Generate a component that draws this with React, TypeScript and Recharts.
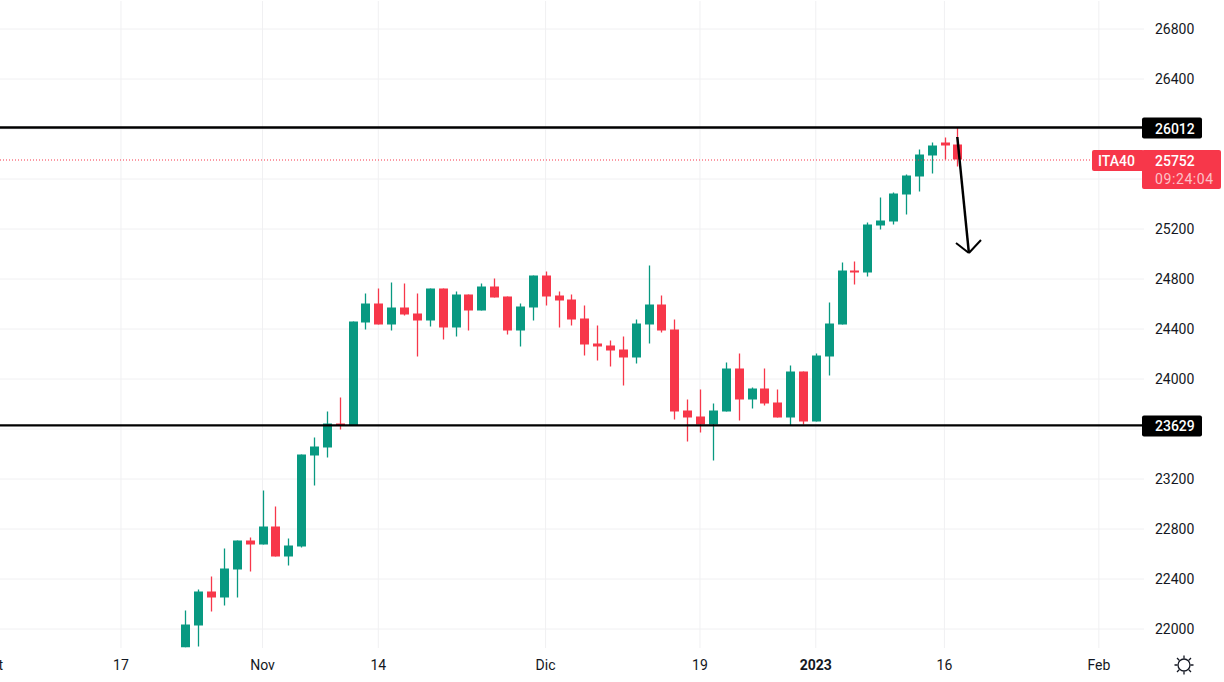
import { Bar, CartesianGrid, ComposedChart, ReferenceLine, XAxis, YAxis } from 'recharts';

// daily candles
const opens = [
  21850, 22024, 22296, 22248, 22472, 22704, 22672, 22816, 22576, 22656, 23384, 23448, 23640, 23624, 24448, 24600,
  24432, 24568, 24520, 24464, 24720, 24408, 24672, 24544, 24736, 24656, 24384, 24568, 24824, 24664, 24632, 24480,
  24280, 24264, 24232, 24168, 24432, 24592, 24392, 23744, 23696, 23632, 23736, 24080, 23832, 23920, 23808, 23688,
  24056, 23656, 24176, 24432, 24864, 24848, 25224, 25256, 25472, 25616, 25784, 25888, 25872,
];
const closes = [
  22032, 22296, 22248, 22480, 22704, 22672, 22816, 22576, 22664, 23392, 23456, 23640, 23624, 24456, 24600, 24432,
  24568, 24512, 24464, 24720, 24408, 24672, 24544, 24736, 24648, 24384, 24576, 24824, 24656, 24624, 24472, 24272,
  24256, 24224, 24168, 24440, 24592, 24384, 23736, 23688, 23632, 23744, 24080, 23832, 23920, 23800, 23688, 24056,
  23656, 24184, 24440, 24864, 24848, 25232, 25264, 25480, 25624, 25792, 25864, 25864, 25752,
];
const highs = [
  22144, 22312, 22416, 22640, 22704, 22728, 23104, 22976, 22720, 23392, 23528, 23736, 23848, 24456, 24680, 24720,
  24768, 24760, 24680, 24720, 24720, 24696, 24672, 24760, 24800, 24656, 24600, 24824, 24856, 24696, 24672, 24584,
  24424, 24304, 24336, 24472, 24904, 24664, 24472, 23832, 23912, 23800, 24128, 24200, 23928, 24080, 23912, 24104,
  24056, 24200, 24608, 24928, 24936, 25248, 25448, 25488, 25632, 25832, 25888, 25928, 26012,
];
const lows = [
  21850, 21856, 22136, 22184, 22248, 22456, 22672, 22576, 22504, 22648, 23144, 23368, 23592, 23624, 24392, 24432,
  24384, 24504, 24176, 24416, 24312, 24336, 24384, 24544, 24648, 24352, 24256, 24464, 24584, 24408, 24424, 24184,
  24144, 24096, 23944, 24120, 24280, 24368, 23672, 23496, 23568, 23344, 23736, 23664, 23760, 23784, 23688, 23624,
  23632, 23656, 24024, 24432, 24752, 24816, 25192, 25232, 25312, 25496, 25640, 25752, 25696,
];

const priceTicks = [26800, 26400, 25200, 24800, 24400, 24000, 23200, 22800, 22400, 22000];
const priceGrid = [26800, 26400, 26000, 25600, 25200, 24800, 24400, 24000, 23600, 23200, 22800, 22400, 22000];
const timeTicks = [-15, -5, 6, 15, 28, 40, 49, 59, 71];
const timeLabels = ['Oct', '17', 'Nov', '14', 'Dic', '19', '2023', '16', 'Feb'];

const resistance = 26012;
const support = 23629;
const lastPrice = 25752;
const arrowShaft = [{ x: 60, y: 25936 }, { x: 60.9, y: 25008 }];
const arrowLeft = [{ x: 59.9, y: 25088 }, { x: 60.9, y: 25008 }];
const arrowRight = [{ x: 61.84, y: 25112 }, { x: 60.9, y: 25008 }];

const UP = '#089981';
const DOWN = '#f7374a';
const INK = '#131722';
const FONT = 'Roboto, sans-serif';

const data = opens.map((open, i) => ({
  index: i,
  open,
  close: closes[i],
  high: highs[i],
  low: lows[i],
  range: [lows[i], highs[i]],
}));

function Candle(props: any) {
  const { x, y, width, height, payload } = props;
  const { open, close, high, low } = payload;
  const color = close >= open ? UP : DOWN;
  const toY = (v: number) => y + ((high - v) / (high - low)) * height;
  const top = toY(Math.max(open, close));
  const bottom = toY(Math.min(open, close));
  const mid = Math.round(x + width / 2);
  // chart sits half a pixel down so the grid is crisp, take it back here
  return (
    <g>
      <rect x={mid - 0.15} y={y - 0.5} width={1.3} height={height} fill={color} />
      <rect x={mid - 4} y={top - 0.5} width={9} height={Math.max(bottom - top, 2)} fill={color} />
    </g>
  );
}

function TimeTick({ x, y, payload }: any) {
  const label = timeLabels[timeTicks.indexOf(payload.value)];
  return (
    <text
      x={x}
      y={y + 14}
      textAnchor="middle"
      fontSize={14}
      fontFamily={FONT}
      fontWeight={label === '2023' ? 700 : 400}
      fill={INK}
    >
      {label}
    </text>
  );
}

function LinePill({ viewBox, value }: any) {
  const { x, y, width } = viewBox;
  const left = x + width - 2;
  return (
    <g>
      <rect x={left} y={y - 10} width={60} height={21} rx={2} fill="#000000" />
      <text x={left + 13} y={y + 6} fontSize={14} fontFamily={FONT} fontWeight={500} fill="#ffffff">
        {value}
      </text>
    </g>
  );
}

function LastPricePill({ viewBox }: any) {
  const { x, y, width } = viewBox;
  const left = x + width - 2;
  return (
    <g>
      <rect x={left - 50} y={y - 10} width={52} height={21} rx={2} fill={DOWN} />
      <rect x={left} y={y - 10} width={79} height={39} rx={2} fill={DOWN} />
      <text x={left - 44} y={y + 6} fontSize={14} fontFamily={FONT} fontWeight={500} fill="#ffffff">
        ITA40
      </text>
      <text x={left + 13} y={y + 6} fontSize={14} fontFamily={FONT} fontWeight={500} fill="#ffffff">
        {lastPrice}
      </text>
      <text x={left + 13} y={y + 24} fontSize={14} letterSpacing={0.6} fontFamily={FONT} fill="#ffffff" fillOpacity={0.7}>
        09:24:04
      </text>
    </g>
  );
}

export default function App() {
  return (
    <div style={{ position: 'fixed', left: 0, top: 0, width: 1224, height: 682, overflow: 'hidden', background: '#ffffff' }}>
      <div style={{ position: 'absolute', left: -40, top: 0.5 }}>
        <ComposedChart width={1264} height={682} data={data} margin={{ top: 0, right: 0, bottom: 0, left: 0 }}>
          <CartesianGrid stroke="#f0f0f2" horizontalValues={priceGrid} verticalValues={timeTicks} />
          <XAxis
            dataKey="index"
            type="number"
            domain={[-17.51, 74.51]}
            allowDataOverflow
            ticks={timeTicks}
            interval={0}
            height={35}
            axisLine={false}
            tickLine={false}
            tick={<TimeTick />}
          />
          <YAxis
            orientation="right"
            type="number"
            domain={[21848, 27024]}
            allowDataOverflow
            ticks={priceTicks}
            interval={0}
            width={80}
            axisLine={false}
            tickLine={false}
            tickMargin={5}
            tick={{ fill: INK, fontSize: 14, fontFamily: FONT }}
          />
          <Bar dataKey="range" barSize={9} shape={<Candle />} isAnimationActive={false} />
          <ReferenceLine y={lastPrice} stroke={DOWN} strokeDasharray="1 2" label={<LastPricePill />} />
          <ReferenceLine y={resistance} stroke="#000000" strokeWidth={2.3} label={<LinePill value={resistance} />} />
          <ReferenceLine y={support} stroke="#000000" strokeWidth={2.3} label={<LinePill value={support} />} />
          <ReferenceLine segment={arrowShaft} stroke="#000000" strokeWidth={2.5} />
          <ReferenceLine segment={arrowLeft} stroke="#000000" strokeWidth={2} />
          <ReferenceLine segment={arrowRight} stroke="#000000" strokeWidth={2} />
        </ComposedChart>
      </div>
      {/* settings icon in the corner of the axes */}
      <svg style={{ position: 'absolute', left: 1174, top: 655 }} width={20} height={20} viewBox="0 0 20 20">
        <circle cx={10} cy={10} r={6} fill="none" stroke={INK} strokeWidth={1.3} />
        <path
          d="M10 0.5v3M10 16.5v3M0.5 10h3M16.5 10h3M3 3l2.2 2.2M14.8 14.8L17 17M3 17l2.2-2.2M14.8 5.2L17 3"
          stroke={INK}
          strokeWidth={1.3}
        />
      </svg>
    </div>
  );
}
